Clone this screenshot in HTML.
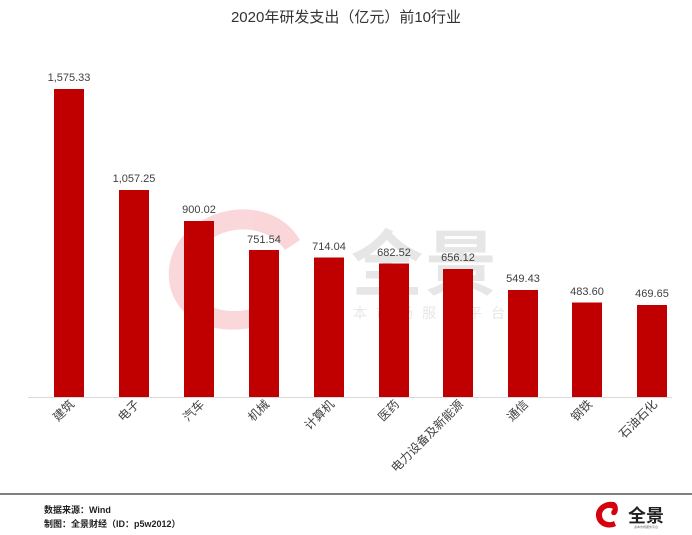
<!DOCTYPE html>
<html><head><meta charset="utf-8"><style>
body{margin:0;background:#fff;}
svg{display:block;font-family:"Liberation Sans","Noto Sans CJK SC",sans-serif;}
</style></head><body>
<svg width="692" height="535" viewBox="0 0 692 535" xmlns="http://www.w3.org/2000/svg">
<rect width="692" height="535" fill="#fff"/>
<text x="346" y="22" font-size="15" text-anchor="middle" fill="#333">2020年研发支出（亿元）前10行业</text>
<g opacity="0.45">
<path d="M300,240 C280,205 230,200 195,225 C160,250 160,300 195,320 C220,335 250,330 275,322 L270,305 C245,312 220,315 205,302 C185,285 190,255 210,240 C235,222 270,228 285,250 Z" fill="#f4a6ad"/>
<text x="425" y="290" font-size="72" font-weight="bold" text-anchor="middle" fill="#c8c8c8" letter-spacing="2">全景</text>
<text x="422" y="318" font-size="14" text-anchor="middle" fill="#c8c8c8" letter-spacing="9">资本市场服务平台</text>
</g>
<line x1="28" y1="397.5" x2="672" y2="397.5" stroke="#d9d9d9" stroke-width="1"/>
<g fill="#c00000">
<rect x="54" y="89" width="30" height="308"/>
<rect x="119" y="190" width="30" height="207"/>
<rect x="184" y="221" width="30" height="176"/>
<rect x="249" y="250" width="30" height="147"/>
<rect x="314" y="257.5" width="30" height="139.5"/>
<rect x="379" y="263.5" width="30" height="133.5"/>
<rect x="443" y="269" width="30" height="128"/>
<rect x="508" y="290" width="30" height="107"/>
<rect x="572" y="302.5" width="30" height="94.5"/>
<rect x="637" y="305" width="30" height="92"/>
</g>
<g font-size="11" fill="#404040" text-anchor="middle">
<text x="69" y="81">1,575.33</text>
<text x="134" y="182">1,057.25</text>
<text x="199" y="213">900.02</text>
<text x="264" y="243">751.54</text>
<text x="329" y="250">714.04</text>
<text x="394" y="256">682.52</text>
<text x="458" y="261">656.12</text>
<text x="523" y="282">549.43</text>
<text x="587" y="295">483.60</text>
<text x="652" y="297">469.65</text>
</g>
<g font-size="12" fill="#404040" text-anchor="end">
<text transform="translate(75,405) rotate(-45)">建筑</text>
<text transform="translate(140,405) rotate(-45)">电子</text>
<text transform="translate(205,405) rotate(-45)">汽车</text>
<text transform="translate(270,405) rotate(-45)">机械</text>
<text transform="translate(335,405) rotate(-45)">计算机</text>
<text transform="translate(400,405) rotate(-45)">医药</text>
<text transform="translate(464,405) rotate(-45)">电力设备及新能源</text>
<text transform="translate(529,405) rotate(-45)">通信</text>
<text transform="translate(593,405) rotate(-45)">钢铁</text>
<text transform="translate(658,405) rotate(-45)">石油石化</text>
</g>
<line x1="0" y1="494" x2="692" y2="494" stroke="#7f7f7f" stroke-width="2"/>
<g font-size="9" font-weight="bold" fill="#222">
<text x="44" y="513">数据来源：Wind</text>
<text x="44" y="527">制图：全景财经（ID：p5w2012）</text>
</g>
<path d="M614,502 C604,500 595,508 596,516 C597,526 608,530 616,526 L614,521 C609,524 602,521 602,515 C602,509 609,506 613,509 C610,512 611,516 615,515 C619,513 619,504 614,502 Z" fill="#d7000f"/>
<text x="646" y="522" font-size="18" font-weight="bold" text-anchor="middle" fill="#222">全景</text>
<text x="646" y="528" font-size="3" text-anchor="middle" fill="#666">资本市场服务平台</text>
</svg>
</body></html>
